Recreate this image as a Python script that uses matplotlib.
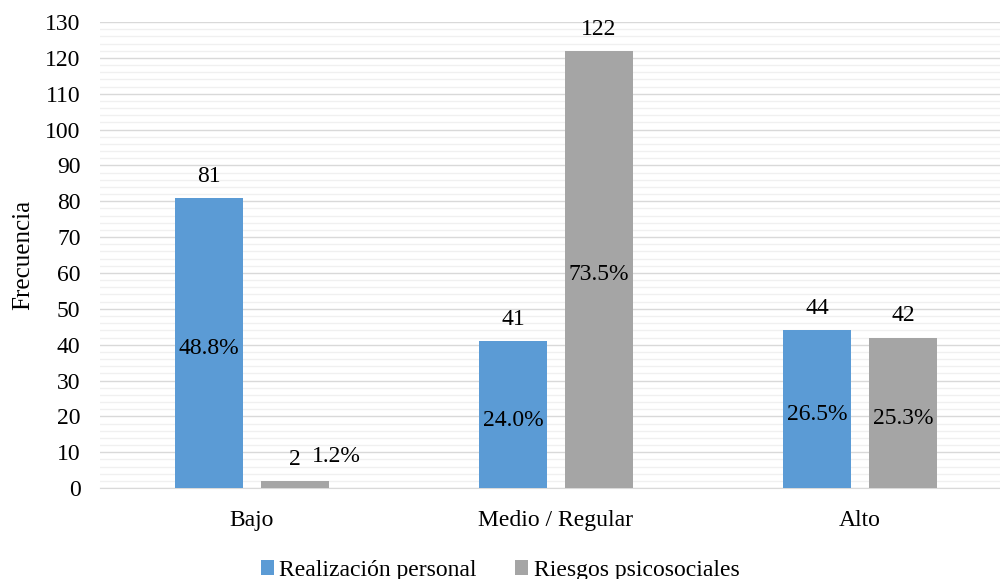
import matplotlib
matplotlib.use("Agg")
import matplotlib.pyplot as plt
import numpy as np
from matplotlib.ticker import MultipleLocator

categories = ["Bajo", "Medio / Regular", "Alto"]
series_names = ["Realización personal", "Riesgos psicosociales"]
realizacion = [81, 41, 44]
riesgos = [2, 122, 42]
pct_realizacion = ["48.8%", "24.0%", "26.5%"]
pct_riesgos = ["1.2%", "73.5%", "25.3%"]

plt.rcParams['font.family'] = ['Liberation Serif', 'DejaVu Serif']
FS = 17

fig = plt.figure(figsize=(10, 5.79), dpi=100)
ax = fig.add_axes([0.100, 0.157, 0.912, 0.805])

x = np.arange(len(categories))
w = 0.224
off = 0.141
colors = ["#5B9BD5", "#A5A5A5"]

b1 = ax.bar(x - off, realizacion, w, color=colors[0], label=series_names[0], zorder=3)
b2 = ax.bar(x + off, riesgos, w, color=colors[1], label=series_names[1], zorder=3)

ax.set_xlim(-0.5, 2.5)
ax.set_ylim(0, 130)
ax.yaxis.set_major_locator(MultipleLocator(10))
ax.yaxis.set_minor_locator(MultipleLocator(2))
ax.grid(which='major', axis='y', color='#D9D9D9', linewidth=1.0, zorder=0)
ax.grid(which='minor', axis='y', color='#F0F0F0', linewidth=1.0, zorder=0)
for s in ['top', 'right', 'left']:
    ax.spines[s].set_visible(False)
ax.spines['bottom'].set_color('#D9D9D9')
ax.tick_params(axis='both', which='both', length=0, labelsize=FS)
ax.tick_params(axis='y', pad=14)
ax.tick_params(axis='x', pad=16)
ax.set_xticks(x)
ax.set_xticklabels(categories)
ax.set_ylabel("Frecuencia", fontsize=18, labelpad=8)

for bars, vals, pcts in ((b1, realizacion, pct_realizacion), (b2, riesgos, pct_riesgos)):
    for bar, v, p in zip(bars, vals, pcts):
        cx = bar.get_x() + bar.get_width() / 2
        ax.annotate(str(v), (cx, v), xytext=(0, 8), textcoords='offset points',
                    ha='center', va='bottom', fontsize=FS)
        if v < 10:
            ax.annotate(p, (cx, v), xytext=(12, 10), textcoords='offset points',
                        ha='left', va='bottom', fontsize=FS)
        else:
            ax.annotate(p, (cx, v / 2), xytext=(0, -4), textcoords='offset points',
                        ha='center', va='center', fontsize=FS, zorder=4)

fig.legend(loc='lower center', bbox_to_anchor=(0.5, -0.04), ncol=2, frameon=False,
           fontsize=FS, handlelength=0.55, handleheight=0.55, handletextpad=0.25,
           columnspacing=1.6)

fig.savefig("out.png", dpi=100)
